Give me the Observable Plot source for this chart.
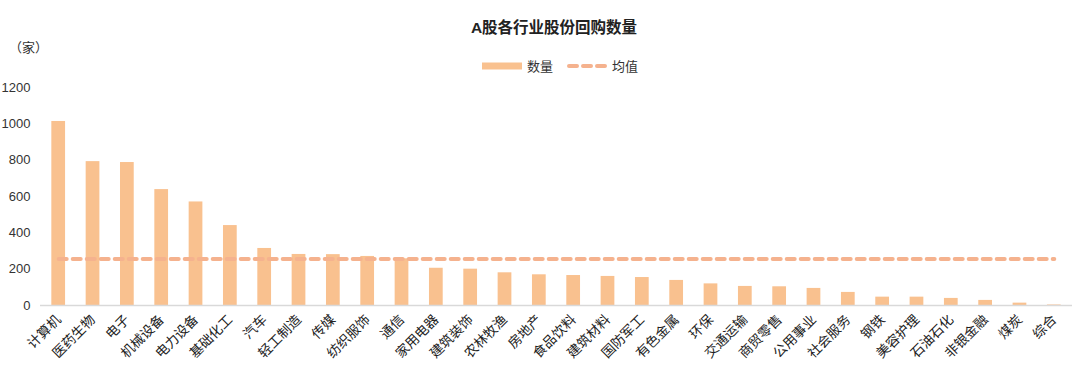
<!DOCTYPE html>
<html>
<head>
<meta charset="utf-8">
<script src="https://cdn.jsdelivr.net/npm/d3@7"></script>
<script src="https://cdn.jsdelivr.net/npm/@observablehq/plot@0.6"></script>
<style>
  html, body { margin: 0; padding: 0; background: #fff; }
  body { width: 1080px; height: 375px; overflow: hidden; font-family: "Liberation Sans", Arial, "Noto Sans CJK SC", sans-serif; }
  #header { position: relative; width: 1080px; height: 80px; }
  #title { position: absolute; left: 14px; width: 1080px; top: 15px; text-align: center; font-size: 15.5px; font-weight: bold; color: #222; font-family: "Liberation Sans", Arial, "Noto Sans CJK SC", sans-serif; }
  #unit { position: absolute; left: 9px; top: 37px; font-size: 13px; color: #333; font-family: "Noto Sans CJK SC", sans-serif; }
  #legend { position: absolute; left: 482px; top: 57px; display: flex; align-items: center; font-size: 13px; color: #333; font-family: "Noto Sans CJK SC", sans-serif; }
  #legend svg { display: block; }
  #legend span { margin-left: 5px; margin-right: 14px; line-height: 18px; }
</style>
</head>
<body>
<div id="header">
  <div id="title">A股各行业股份回购数量</div>
  <div id="unit">（家）</div>
  <div id="legend"></div>
</div>
<div id="chart"></div>
<script>
const industries = ["计算机","医药生物","电子","机械设备","电力设备","基础化工","汽车","轻工制造","传媒","纺织服饰","通信","家用电器","建筑装饰","农林牧渔","房地产","食品饮料","建筑材料","国防军工","有色金属","环保","交通运输","商贸零售","公用事业","社会服务","钢铁","美容护理","石油石化","非银金融","煤炭","综合"];
const counts = [1013,792,787,638,570,440,314,281,280,270,257,205,200,180,169,165,160,154,138,119,105,103,94,72,46,46,39,28,13,3];
const yTicks = [0,200,400,600,800,1000,1200];
const seriesNames = ["数量","均值"];

const barColor = "#F9C18F";
const lineColor = "#F5B28E";

const data = industries.map((name, i) => ({name, value: counts[i]}));
const avg = d3.mean(counts);
const avgData = industries.map(name => ({name, value: avg}));

// legend
const legend = document.getElementById("legend");
legend.innerHTML =
  `<svg width="40" height="18"><line x1="0" x2="40" y1="9" y2="9" stroke="${barColor}" stroke-width="7"/></svg><span>${seriesNames[0]}</span>` +
  `<svg width="40" height="18"><line x1="2" x2="40" y1="9" y2="9" stroke="${lineColor}" stroke-width="4" stroke-dasharray="8 6" stroke-linecap="round"/></svg><span style="margin-left:5px">${seriesNames[1]}</span>`;

const chart = Plot.plot({
  width: 1080,
  height: 295,
  marginTop: 7,
  marginBottom: 70,
  marginLeft: 40,
  marginRight: 8,
  style: { fontFamily: '"Liberation Sans", Arial, "Noto Sans CJK SC", sans-serif', fontSize: "13px", color: "#333", background: "#fff" },
  x: { domain: industries, paddingInner: 0.6, paddingOuter: 0.33, round: false, label: null },
  y: { domain: [0, 1200], ticks: yTicks, label: null },
  marks: [
    Plot.barY(data, { x: "name", y: "value", fill: barColor }),
    Plot.ruleY([0], { stroke: "#D9D9D9", strokeWidth: 1.5 }),
    Plot.lineY(avgData, { x: "name", y: "value", stroke: lineColor, strokeWidth: 4, strokeDasharray: "8 6", strokeLinecap: "round" }),
    Plot.axisY({ ticks: yTicks, tickSize: 0, tickPadding: 10, tickFormat: d => String(d), fontSize: 13 }),
    Plot.axisX({ tickSize: 0, tickPadding: 12, tickRotate: -45, fontSize: 13.5, fontFamily: '"Noto Sans CJK SC", sans-serif', fill: "#222" })
  ]
});
document.getElementById("chart").appendChild(chart);
</script>
</body>
</html>
